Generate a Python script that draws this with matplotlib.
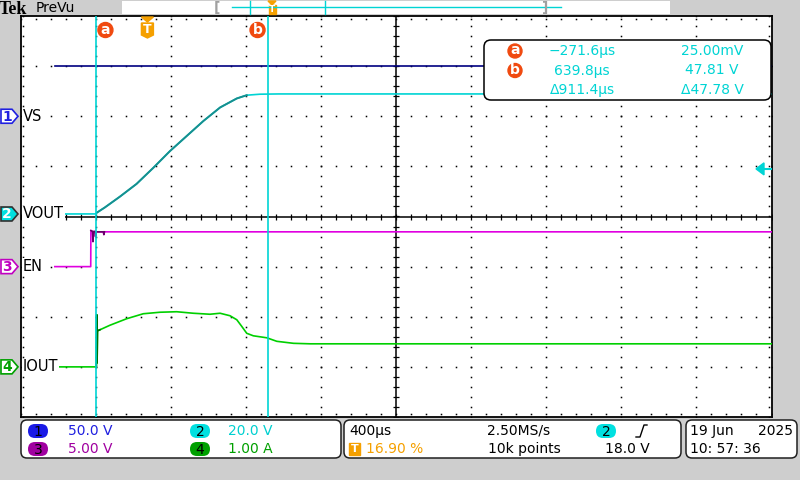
import numpy as np
import matplotlib.pyplot as plt
from matplotlib.patches import FancyBboxPatch, Polygon, Circle, Rectangle

# scope settings
t_div = 400.0            # us per division
t_left = -676.0          # us at left edge of graticule (16.90 % pre-trigger)
scales = [50.0, 20.0, 5.0, 1.00]
offsets = [2.0, 0.05, -1.0, -3.0]   # channel zero position, divisions
cursor_a = -271.6
cursor_b = 639.8
trig_level = 18.0

# ch1 VS (V)
vs_t = [-493, 3324]
vs_v = [50.0, 50.0]

# ch2 VOUT (V)
vout_t = [-493, -275, -268, -227, -147, -58, 31, 120, 209, 298, 387, 476, 529, 600, 700, 3324]
vout_v = [0.0, 0.03, 0.6, 2.6, 6.9, 12.0, 18.4, 25.1, 31.1, 37.1, 42.5, 46.1, 47.4, 47.8, 47.9, 47.9]

# ch3 EN (V)
en_t = [-493, -302, -301, -292, -290, -287, -278, -276, -273, -234, -232, -229, 3324]
en_v = [0.0, 0.0, 3.6, 3.5, 2.5, 3.5, 3.5, 3.0, 3.47, 3.47, 3.2, 3.47, 3.47]

# ch4 IOUT (A)
iout_t = [-493, -272, -270, -268, -266, -253, -200, -111, -22, 67, 156, 244, 333, 387,
          440, 476, 502, 529, 564, 636, 689, 778, 867, 3324]
iout_a = [0.0, 0.0, 1.04, 0.08, 0.72, 0.74, 0.83, 0.96, 1.06, 1.09, 1.10, 1.07, 1.05, 1.07,
          1.02, 0.94, 0.81, 0.67, 0.62, 0.58, 0.51, 0.47, 0.46, 0.46]

BG = '#cecece'
CYAN = '#00d4d4'
ORANGE = '#f5a000'
RED = '#f04a10'

fig = plt.figure(figsize=(8, 4.8), dpi=100, facecolor=BG)

# graticule (pixel box 20.5..771.5 x 16..417)
GL, GR, GT, GB = 20.5, 771.5, 16.0, 417.0
ax = fig.add_axes([GL / 800, 1 - GB / 480, (GR - GL) / 800, (GB - GT) / 480])
ax.set_facecolor('white')
t_right = t_left + 10 * t_div
ax.set_xlim(t_left, t_right)
ax.set_ylim(-4, 4)
ax.set_xticks([])
ax.set_yticks([])
for s in ax.spines.values():
    s.set_linewidth(1.3)

def tdiv(d):
    return t_left + d * t_div

# dotted grid
for k in range(1, 10):
    if k == 5:
        continue
    yy = np.arange(-4, 4.01, 0.2)
    ax.plot([tdiv(k)] * len(yy), yy, ls='none', marker='s', ms=1.1, mew=0, color='k')
for j in [-3, -2, -1, 1, 2, 3]:
    xx = tdiv(np.arange(0, 10.01, 0.2))
    ax.plot(xx, [j] * len(xx), ls='none', marker='s', ms=1.1, mew=0, color='k')
# center crosshair with minor ticks
ax.axhline(0, color='k', lw=1.1)
ax.axvline(tdiv(5), color='k', lw=1.1)
xx = tdiv(np.arange(0, 10.01, 0.2))
ax.plot(xx, [0] * len(xx), ls='none', marker='|', ms=5, mew=0.9, color='k')
yy = np.arange(-4, 4.01, 0.2)
ax.plot([tdiv(5)] * len(yy), yy, ls='none', marker='_', ms=5, mew=0.9, color='k')
# edge ticks
ax.plot(xx, [3.95] * len(xx), ls='none', marker='s', ms=1.1, mew=0, color='k')
ax.plot(xx, [-3.95] * len(xx), ls='none', marker='s', ms=1.1, mew=0, color='k')
ax.plot([tdiv(9.97)] * len(yy), yy, ls='none', marker='s', ms=1.1, mew=0, color='k')
ax.plot([tdiv(0.03)] * len(yy), yy, ls='none', marker='s', ms=1.1, mew=0, color='k')

# traces
vout_t = np.array(vout_t)
vout_d = np.array(vout_v) / scales[1] + offsets[1]
ax.plot(vs_t, np.array(vs_v) / scales[0] + offsets[0], color='#000080', lw=1.2, zorder=3)
ax.plot(vout_t, vout_d, color=CYAN, lw=1.2, zorder=3)
m = (vout_t >= -270) & (vout_t <= 529)
ax.plot(vout_t[m], vout_d[m], color='#178f8f', lw=1.4, zorder=3)
en_t = np.array(en_t)
en_d = np.array(en_v) / scales[2] + offsets[2]
ax.plot(en_t, en_d, color='#e000e0', lw=1.2, zorder=3)
m = (en_t >= -301) & (en_t <= -229)
ax.plot(en_t[m], en_d[m], color='#6a006a', lw=1.2, zorder=3)
iout_t = np.array(iout_t)
iout_d = np.array(iout_a) / scales[3] + offsets[3]
ax.plot(iout_t, iout_d, color='#00d000', lw=1.2, zorder=3)
m = (iout_t >= -272) & (iout_t <= -253)
ax.plot(iout_t[m], iout_d[m], color='#007000', lw=1.2, zorder=3)

# cursors
ax.axvline(cursor_a, color=CYAN, lw=1.2, zorder=4)
ax.axvline(cursor_b, color=CYAN, lw=1.2, zorder=4)

# overlay in pixel coordinates for the scope chrome
ov = fig.add_axes([0, 0, 1, 1])
ov.set_xlim(0, 800)
ov.set_ylim(480, 0)
ov.axis('off')

def px(t):
    return GL + (t - t_left) / t_div * (GR - GL) / 10

def py(d):
    return (GT + GB) / 2 - d * (GB - GT) / 8

F = 'DejaVu Sans'

# top bar
ov.text(-1, 8, 'Tek', fontsize=13, fontweight='bold', family='Liberation Serif', va='center_baseline', ha='left')
ov.text(36, 8, 'PreVu', fontsize=10, family=F, va='center', ha='left')
ov.add_patch(Rectangle((122, 1), 548, 13, facecolor='white', edgecolor='none'))
ov.text(217, 7.5, '[', color='#a0a0a0', fontsize=10, va='center', ha='center', fontweight='bold')
ov.text(545, 7.5, ']', color='#a0a0a0', fontsize=10, va='center', ha='center', fontweight='bold')
ov.plot([232, 561], [7, 7], color=CYAN, lw=1)
ov.plot([250, 250], [1, 14], color=CYAN, lw=1)
ov.plot([325, 325], [1, 14], color=CYAN, lw=1)
ov.add_patch(Polygon([(268, 1), (276, 1), (272, 5)], color=ORANGE))
ov.add_patch(Rectangle((268.5, 5), 7, 9, color=ORANGE))
ov.text(272, 9.5, 'T', color='white', fontsize=6.5, fontweight='bold', ha='center', va='center')

# cursor badges on top of graticule
for label, xc in [('a', px(cursor_a) + 9), ('b', px(cursor_b) - 10)]:
    ov.add_patch(Circle((xc, 30), 7.5, color=RED, zorder=5))
    ov.text(xc, 29.5, label, color='white', fontsize=10, fontweight='bold', ha='center', va='center', zorder=6)
xt = px(0)
ov.add_patch(Polygon([(xt - 6, 17), (xt + 6, 17), (xt, 22)], color=ORANGE, zorder=5))
ov.add_patch(Polygon([(xt - 6, 23), (xt + 6, 23), (xt + 6, 35), (xt, 38), (xt - 6, 35)],
                     color=ORANGE, zorder=5))
ov.text(xt, 29.5, 'T', color='white', fontsize=9, fontweight='bold', ha='center', va='center', zorder=6)

# trigger level arrow on the right
yl = py(trig_level / scales[1] + offsets[1])
ov.add_patch(Polygon([(756, yl), (764, yl - 6), (764, yl + 6)], color=CYAN, zorder=5))
ov.plot([764, 771], [yl, yl], color=CYAN, lw=1.5, zorder=5)

# channel markers and labels
names = ['VS', 'VOUT', 'EN', 'IOUT']
edge = ['#2020e0', '#303030', '#c000c0', '#00a000']
face = ['white', '#00e0e0', 'white', 'white']
tcol = ['#2020e0', 'white', '#c000c0', '#00a000']
for i in range(4):
    y0 = py(offsets[i])
    ov.add_patch(Polygon([(1, y0 - 7), (12, y0 - 7), (18, y0), (12, y0 + 7), (1, y0 + 7)],
                         facecolor=face[i], edgecolor=edge[i], lw=1.2, zorder=5))
    ov.text(7, y0 + 0.5, str(i + 1), color=tcol[i], fontsize=10, fontweight='bold',
            ha='center', va='center', zorder=6)
    ov.text(23, y0, names[i], color='k', fontsize=10.5, family=F, ha='left', va='center', zorder=6,
            bbox=dict(facecolor='white', edgecolor='none', pad=0.5))

# cursor readout box
ov.add_patch(FancyBboxPatch((487, 43), 281, 54, boxstyle='round,pad=3,rounding_size=7',
                            facecolor='white', edgecolor='k', lw=1.1, zorder=5))
rows = [('a', '\u2212271.6\u00b5s', '25.00mV'),
        ('b', '639.8\u00b5s', '47.81 V'),
        (None, '\u0394911.4\u00b5s', '\u039447.78 V')]
for r, (lab, tv, vv) in enumerate(rows):
    yr = 51 + r * 19.5
    if lab:
        ov.add_patch(Circle((515, yr), 7, color=RED, zorder=6))
        ov.text(515, yr - 0.5, lab, color='white', fontsize=10, fontweight='bold',
                ha='center', va='center', zorder=7)
    ov.text(582, yr, tv, color=CYAN, fontsize=10, family=F, ha='center', va='center', zorder=7)
    ov.text(712, yr, vv, color=CYAN, fontsize=10, family=F, ha='center', va='center', zorder=7)

# bottom status boxes
for x0, x1 in [(21, 341), (344, 681), (686, 797)]:
    ov.add_patch(FancyBboxPatch((x0 + 3, 423), x1 - x0 - 6, 32, boxstyle='round,pad=3,rounding_size=6',
                                facecolor='white', edgecolor='#202020', lw=1.1, zorder=5))

def pill(xc, yc, txt, fc):
    ov.add_patch(FancyBboxPatch((xc - 8, yc - 5), 16, 10, boxstyle='round,pad=2,rounding_size=7',
                                facecolor=fc, edgecolor='none', zorder=6))
    ov.text(xc, yc + 0.5, txt, color='k', fontsize=10, ha='center', va='center', zorder=7)

pill(38, 431, '1', '#1a1ae6')
ov.text(68, 431, '50.0 V', color='#2020e0', fontsize=10, family=F, va='center', zorder=7)
pill(200, 431, '2', '#00e0e0')
ov.text(228, 431, '20.0 V', color='#00d0d0', fontsize=10, family=F, va='center', zorder=7)
pill(38, 449, '3', '#a000a0')
ov.text(68, 449, '5.00 V', color='#a000a0', fontsize=10, family=F, va='center', zorder=7)
pill(200, 449, '4', '#00a000')
ov.text(228, 449, '1.00 A', color='#00a000', fontsize=10, family=F, va='center', zorder=7)

ov.text(349, 431, '400\u00b5s', color='k', fontsize=10, family=F, va='center', zorder=7)
ov.add_patch(Rectangle((349, 443), 11, 12, color=ORANGE, zorder=6))
ov.text(354.5, 449.5, 'T', color='white', fontsize=8, fontweight='bold', ha='center', va='center', zorder=7)
ov.text(366, 449, '16.90 %', color=ORANGE, fontsize=10, family=F, va='center', zorder=7)
ov.text(487, 431, '2.50MS/s', color='k', fontsize=10, family=F, va='center', zorder=7)
ov.text(488, 449, '10k points', color='k', fontsize=10, family=F, va='center', zorder=7)
pill(606, 431, '2', '#00e0e0')
# rising edge symbol
ov.plot([636, 640, 644, 647], [437, 437, 425, 425], color='k', lw=1, zorder=7)
ov.text(650, 449, '18.0 V', color='k', fontsize=10, family=F, ha='right', va='center', zorder=7)

ov.text(690, 431, '19 Jun', color='k', fontsize=10, family=F, va='center', zorder=7)
ov.text(793, 431, '2025', color='k', fontsize=10, family=F, ha='right', va='center', zorder=7)
ov.text(690, 449, '10: 57: 36', color='k', fontsize=10, family=F, va='center', zorder=7)

fig.savefig('out.png', dpi=100, facecolor=BG)
